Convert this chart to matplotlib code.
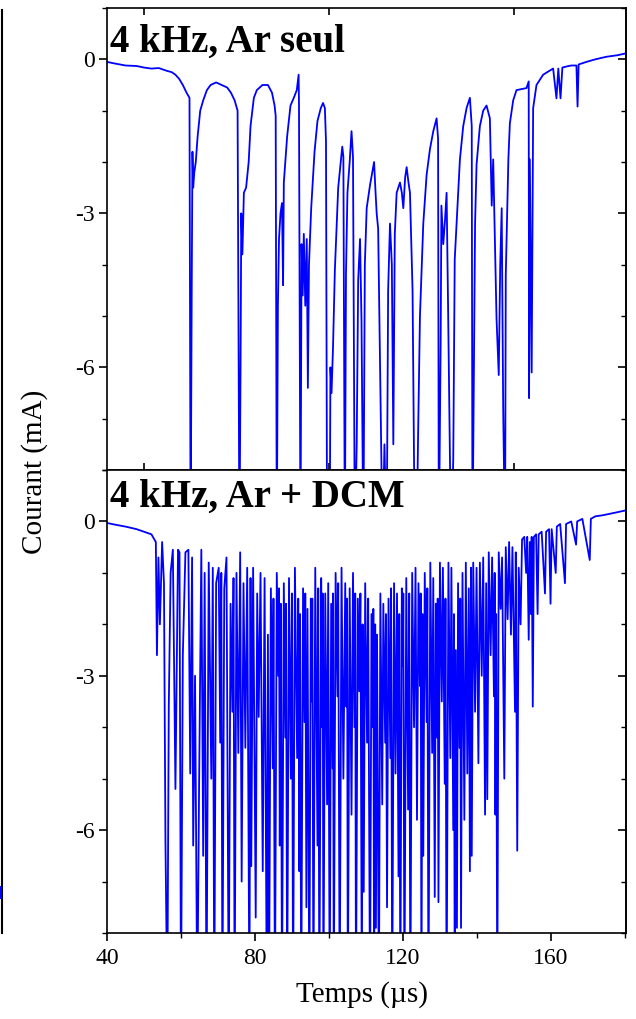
import numpy as np
import matplotlib
matplotlib.use("Agg")
import matplotlib.pyplot as plt
from matplotlib.lines import Line2D
from matplotlib.ticker import MultipleLocator, FixedLocator

plt.rcParams['font.family'] = ['Liberation Serif', 'DejaVu Serif']
plt.rcParams['axes.unicode_minus'] = False

# courant (mA) vs temps (us) -- 4 kHz, Ar seul
ar_seul = [
    (40.0, -0.05), (42.0, -0.08), (45.0, -0.12), (48.0, -0.13), (50.0, -0.16), (52.0, -0.18),
    (54.0, -0.17), (56.0, -0.22), (57.5, -0.25), (58.5, -0.3), (59.5, -0.38), (60.5, -0.5),
    (61.5, -0.65), (62.3, -0.75),
    (62.6, -9.5), (62.9, -4.5), (63.1, -1.8), (63.3, -2.5), (63.6, -2.2), (64.0, -2.0), (64.5, -1.5),
    (65.2, -1.0), (66.0, -0.8), (67.0, -0.6), (68.0, -0.5), (69.5, -0.45), (71.0, -0.5), (72.5, -0.55),
    (73.5, -0.65), (74.5, -0.8), (75.3, -1.0),
    (75.8, -9.5), (76.1, -6.0), (76.3, -3.0), (76.6, -3.8), (77.0, -2.6), (77.6, -2.5), (78.3, -2.0),
    (78.8, -1.3), (79.7, -0.75), (80.5, -0.6), (82.0, -0.5), (83.5, -0.5), (84.6, -0.65), (85.3, -0.9),
    (85.6, -1.1),
    (85.9, -9.5), (86.2, -4.8), (86.5, -3.5), (86.9, -3.0), (87.3, -2.8), (87.6, -4.4), (87.8, -2.4),
    (88.7, -1.5), (89.6, -0.9), (90.5, -0.75), (91.3, -0.6), (91.8, -0.3), (91.9, -0.9),
    (92.3, -9.5), (92.6, -3.6), (92.9, -4.6), (93.2, -3.4), (93.6, -4.8), (94.0, -3.5), (94.3, -6.4),
    (94.6, -4.0), (95.2, -2.9), (96.1, -1.8), (96.9, -1.2), (97.8, -0.95), (98.4, -0.85), (98.9, -0.95),
    (99.2, -1.6),
    (99.5, -9.5), (100.2, -9.5), (100.4, -6.0), (100.7, -6.5), (101.1, -5.6), (101.6, -4.1),
    (102.5, -2.5), (103.2, -2.0), (103.6, -1.7), (103.9, -1.9),
    (104.3, -9.5), (104.6, -4.2), (105.0, -2.6), (105.6, -2.0), (106.1, -1.4), (106.5, -1.9),
    (107.0, -9.5), (107.5, -7.5), (107.9, -4.3), (108.4, -3.5), (108.8, -5.1),
    (109.3, -9.5), (109.7, -4.0), (110.2, -2.9), (111.1, -2.45), (111.7, -2.2), (112.2, -2.0),
    (112.6, -2.6), (112.9, -3.0), (113.3, -3.3),
    (114.5, -9.5), (115.0, -7.5), (115.6, -9.5), (116.0, -4.5), (116.5, -3.2), (117.0, -4.0),
    (117.4, -7.5), (117.8, -3.4), (118.3, -2.6), (119.2, -2.4), (119.7, -2.6), (120.1, -2.9),
    (120.6, -2.3), (121.0, -2.1), (121.5, -2.4), (121.9, -2.6), (122.6, -4.5),
    (123.2, -9.5), (123.7, -9.5), (124.1, -7.3), (124.6, -5.0), (125.0, -4.2), (125.5, -3.2),
    (126.4, -2.25), (127.3, -1.75), (128.2, -1.4), (129.1, -1.15), (129.5, -1.55),
    (129.7, -9.5), (130.2, -5.5), (130.4, -2.85), (130.9, -3.6), (131.4, -3.1), (131.8, -2.6),
    (132.2, -4.8),
    (133.0, -9.5), (133.6, -7.8), (134.0, -3.9), (134.5, -3.2), (135.4, -1.95), (136.3, -1.3),
    (137.2, -0.95), (138.1, -0.75), (138.6, -1.3),
    (138.8, -9.5), (139.2, -6.0), (139.5, -3.2), (139.9, -2.05), (140.8, -1.3), (141.7, -1.0),
    (142.6, -0.9), (143.5, -1.15), (144.0, -2.85), (144.4, -1.95), (145.3, -5.05), (145.9, -6.15),
    (146.3, -4.0), (146.7, -2.9), (147.1, -6.8),
    (147.6, -9.5), (147.8, -4.2), (148.5, -1.95), (148.9, -1.25), (149.8, -0.8), (150.7, -0.6),
    (152.0, -0.58), (153.4, -0.56), (154.0, -0.43),
    (154.1, -6.6), (154.3, -1.95), (154.8, -6.1), (155.2, -0.95), (156.1, -0.5), (157.0, -0.4),
    (157.9, -0.3), (159.0, -0.25), (160.6, -0.18), (161.5, -0.76), (162.0, -0.18), (162.6, -0.76),
    (163.1, -0.16), (164.2, -0.14), (165.5, -0.12), (166.9, -0.12), (167.2, -0.92), (167.5, -0.1),
    (169.6, -0.05), (172.0, 0.0), (175.0, 0.05), (178.0, 0.08), (180.5, 0.12),
]

# 4 kHz, Ar + DCM
ar_dcm = [
    (40.0, -0.03), (42.0, -0.06), (45.0, -0.1), (48.0, -0.15), (50.0, -0.2), (52.0, -0.25),
    (53.2, -0.4),
    (53.5, -2.6), (53.9, -0.7), (54.3, -2.0), (54.9, -0.4), (55.4, -1.2), (55.8, -6.2), (56.3, -9.5),
    (56.7, -3.6), (57.2, -1.0), (57.8, -0.55), (58.5, -5.2), (59.2, -0.55), (59.6, -0.6), (60.0, -9.5),
    (60.5, -2.6), (61.2, -0.6), (62.0, -0.55), (62.5, -4.9), (63.0, -0.7), (63.3, -6.3), (63.8, -3.0),
    (64.4, -9.5), (64.9, -5.1), (65.5, -0.55), (66.0, -6.5), (66.4, -1.0), (66.9, -9.5), (67.5, -0.8),
    (68.2, -5.0), (68.6, -0.9), (69.0, -9.5), (69.5, -1.2), (70.2, -0.9), (70.6, -4.3), (70.9, -1.0),
    (71.2, -9.5), (71.7, -1.3), (72.3, -0.7), (72.9, -9.5), (73.4, -1.6), (73.9, -3.7), (74.2, -1.1),
    (74.5, -9.5), (75.0, -1.0), (75.5, -4.5), (76.0, -0.6), (76.4, -7.0), (76.9, -1.2), (77.4, -4.4),
    (77.9, -0.9), (78.5, -9.5), (78.8, -1.1), (79.0, -6.7), (79.5, -0.9), (80.2, -7.7), (80.6, -1.4),
    (81.0, -3.8), (81.5, -1.0), (82.1, -6.8), (82.6, -1.1), (83.2, -9.5), (83.5, -2.2), (83.8, -9.5),
    (84.3, -1.3), (84.8, -4.8), (85.0, -1.5), (85.4, -9.5), (85.9, -1.0), (86.3, -3.0), (86.5, -1.3),
    (86.7, -6.3), (87.0, -1.6), (87.3, -9.5), (87.8, -1.2), (88.2, -4.2), (88.4, -1.6), (88.7, -9.5),
    (89.2, -1.1), (89.7, -5.0), (90.0, -1.4), (90.3, -9.5), (90.8, -0.9), (91.4, -4.6), (91.7, -1.5),
    (92.0, -6.8), (92.2, -1.8), (92.5, -9.5), (93.0, -1.3), (93.4, -3.9), (93.6, -1.4), (93.9, -7.5),
    (94.2, -1.7), (94.7, -9.5), (95.1, -1.5), (95.4, -3.5), (95.5, -1.5), (95.8, -9.5), (96.3, -0.9),
    (96.9, -6.3), (97.1, -1.3), (97.4, -9.5), (97.9, -1.1), (98.2, -4.0), (98.3, -1.4), (98.5, -9.5),
    (99.0, -1.4), (99.5, -5.5), (99.8, -1.2), (100.2, -9.5), (100.6, -1.6), (101.0, -4.8),
    (101.1, -1.4), (101.3, -9.5), (101.8, -1.0), (102.3, -3.4), (102.5, -1.2), (102.9, -9.5),
    (103.4, -0.9), (103.9, -5.0), (104.4, -1.2), (104.7, -3.6), (104.9, -1.5), (105.1, -9.5),
    (105.6, -1.3), (106.1, -5.7), (106.5, -1.0), (106.9, -4.0), (107.1, -1.4), (107.3, -9.5),
    (107.8, -1.5), (108.2, -3.3), (108.5, -1.4), (108.9, -9.5), (109.1, -2.0), (109.4, -7.2),
    (109.8, -1.2), (110.3, -4.3), (110.6, -1.5), (111.1, -9.5), (111.5, -1.8), (111.9, -4.0),
    (112.0, -1.7), (112.2, -9.5), (112.5, -2.0), (112.7, -7.9), (113.0, -2.2), (113.5, -9.5),
    (113.9, -1.4), (114.4, -5.5), (114.7, -1.6), (115.2, -4.3), (115.4, -1.8), (115.7, -7.5),
    (116.1, -1.5), (116.6, -4.6), (116.8, -1.3), (117.1, -9.5), (117.6, -1.2), (118.0, -4.9),
    (118.4, -1.4), (118.8, -6.9), (119.0, -1.8), (119.3, -9.5), (119.7, -1.3), (120.0, -2.8),
    (120.1, -1.4), (120.4, -9.5), (120.9, -1.1), (121.4, -5.6), (121.7, -1.4), (122.0, -9.5),
    (122.5, -1.0), (123.0, -4.0), (123.4, -0.9), (123.8, -5.8), (124.2, -1.2), (124.6, -3.2),
    (124.8, -1.4), (125.0, -9.5), (125.3, -1.8), (125.5, -6.5), (125.9, -1.0), (126.4, -3.9),
    (126.6, -1.3), (126.9, -9.5), (127.4, -0.8), (127.9, -4.5), (128.2, -1.1), (128.6, -7.3),
    (128.9, -1.6), (129.2, -4.2), (129.4, -1.5), (129.6, -7.4), (130.0, -0.8), (130.5, -3.5),
    (130.8, -0.9), (131.3, -5.1), (131.5, -1.5), (131.8, -9.5), (132.3, -0.8), (132.8, -4.6),
    (133.1, -0.9), (133.6, -6.0), (133.8, -1.8), (134.0, -9.5), (134.3, -2.5), (134.6, -7.9),
    (134.9, -1.2), (135.3, -4.4), (135.5, -1.5), (135.7, -7.9), (136.1, -1.0), (136.6, -5.8),
    (137.0, -0.8), (137.4, -4.9), (137.8, -1.3), (138.1, -6.8), (138.4, -0.9), (138.6, -6.5),
    (139.0, -0.8), (139.5, -3.7), (139.9, -0.9), (140.4, -4.7), (140.8, -0.8), (141.3, -3.0),
    (141.7, -0.7), (142.2, -5.7), (142.5, -1.2), (142.8, -5.4), (143.2, -0.6), (143.7, -2.6),
    (144.1, -0.7), (144.6, -3.4), (144.8, -1.0), (145.0, -5.7), (145.2, -1.8), (145.5, -9.5),
    (145.9, -0.6), (146.4, -1.7), (146.8, -0.7), (147.4, -5.0), (147.8, -0.5), (148.3, -1.9),
    (148.7, -0.4), (149.2, -2.2), (149.6, -0.5), (150.3, -3.7), (150.5, -0.6), (150.9, -6.4),
    (151.3, -0.9), (151.8, -2.0), (152.2, -0.35), (152.8, -0.3), (153.3, -1.0), (153.6, -0.3),
    (154.0, -2.3), (154.3, -0.4), (154.6, -1.8), (154.8, -0.3), (155.1, -3.6), (155.4, -0.3),
    (156.0, -0.25), (156.4, -1.8), (156.7, -0.25), (157.5, -0.2), (158.4, -1.4), (158.7, -0.2),
    (159.5, -0.15), (159.9, -1.6), (160.2, -0.15), (161.3, -1.0), (161.6, -0.1), (162.5, -0.05),
    (163.8, -1.2), (164.1, -0.05), (165.5, 0.0), (166.8, -0.45), (167.1, 0.0), (168.5, 0.05),
    (170.5, -0.75), (170.8, 0.05), (172.0, 0.1), (174.0, 0.12), (176.0, 0.15), (178.0, 0.18),
    (180.5, 0.22),
]

panel_labels = ["4 kHz, Ar seul", "4 kHz, Ar + DCM"]
y_ticks = [0, -3, -6]
x_ticks_bottom = [40, 80, 120, 160]

W, H = 636, 1019
fig = plt.figure(figsize=(W / 100, H / 100), dpi=100)
left, right = 107 / W, 626 / W
ax1 = fig.add_axes([left, 1 - 470 / H, right - left, 462 / H])
ax2 = fig.add_axes([left, 1 - 933 / H, right - left, 463 / H])

blue = '#0000ff'
for ax, pts, lab in [(ax1, ar_seul, panel_labels[0]), (ax2, ar_dcm, panel_labels[1])]:
    d = np.array(pts)
    ax.plot(d[:, 0], d[:, 1], color=blue, lw=1.3)
    ax.set_xlim(40, 180.3)
    ax.set_ylim(-8, 1)
    ax.text(0.006, 0.905 if ax is ax1 else 0.92, lab, transform=ax.transAxes,
            fontsize=28, fontweight='bold', va='baseline', ha='left')
    for s in ax.spines.values():
        s.set_linewidth(1.2)
    # left: outward, labels at 0, -3, -6
    ax.yaxis.set_major_locator(FixedLocator(y_ticks))
    ax.yaxis.set_minor_locator(MultipleLocator(1))
    ax.tick_params(axis='y', which='major', direction='out', length=6, width=1.2,
                   labelsize=17, pad=3, right=False)
    ax.tick_params(axis='y', which='minor', direction='out', length=3.5, width=1.0, right=False)
    # right: inward, no labels
    sec = ax.secondary_yaxis('right')
    sec.yaxis.set_major_locator(FixedLocator(y_ticks))
    sec.yaxis.set_minor_locator(MultipleLocator(1))
    sec.tick_params(axis='y', which='major', direction='in', length=6, width=1.2, labelright=False)
    sec.tick_params(axis='y', which='minor', direction='in', length=3.5, width=1.0)
    sec.spines['right'].set_linewidth(1.2)

# top panel: origin default ticks, inward, no labels
ax1.xaxis.set_major_locator(FixedLocator([50, 100, 150]))
ax1.tick_params(axis='x', which='major', direction='in', top=True, bottom=True,
                labelbottom=False, length=5, width=1.2)

# bottom panel
ax2.xaxis.set_major_locator(FixedLocator(x_ticks_bottom))
ax2.xaxis.set_minor_locator(FixedLocator([60, 100, 140, 180]))
ax2.tick_params(axis='x', which='major', direction='out', length=6, width=1.2,
                labelsize=17, pad=5, top=False)
ax2.tick_params(axis='x', which='minor', direction='out', length=3.5, width=1.0, top=False)

fig.text(362 / W, 1 - 995 / H, "Temps (\u00b5s)", fontsize=21, ha='center', va='center')
fig.text(35 / W, 1 - 472 / H, "Courant (mA)", fontsize=21, ha='center', va='center',
         rotation=90)

# trait vertical au bord gauche de l'image (bord de figure voisine)
fig.add_artist(Line2D([2 / W, 2 / W], [1 - 10 / H, 1 - 933 / H], color='black', lw=1.5))
fig.add_artist(Line2D([0.5 / W, 0.5 / W], [1 - 887 / H, 1 - 898 / H], color=blue, lw=1.5))

fig.savefig("out.png", dpi=100)
